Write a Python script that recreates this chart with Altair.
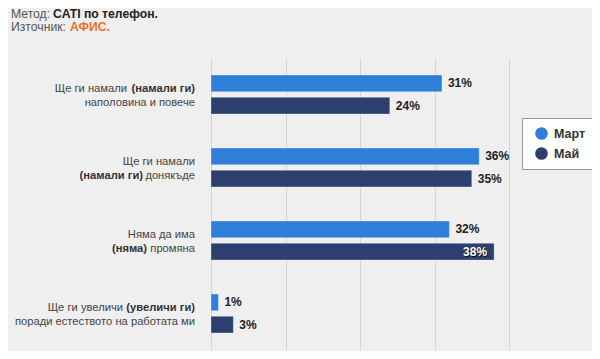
import altair as alt
import pandas as pd

# ---- data ----
cat_ids = ["c1", "c2", "c3", "c4"]
series = ["Март", "Май"]
march = [31, 36, 32, 1]
may = [24, 35, 38, 3]

# category label segments: (category, line, text, weight)
label_cat = ["c1", "c1", "c1", "c2", "c2", "c2", "c3", "c3", "c3", "c4", "c4", "c4"]
label_line = [0, 0, 1, 0, 1, 1, 0, 1, 1, 0, 0, 1]
label_text = ["Ще ги намали", "(намали ги)", "наполовина и повече",
              "Ще ги намали", "(намали ги)", "донякъде",
              "Няма да има", "(няма)", "промяна",
              "Ще ги увеличи", "(увеличи ги)", "поради естеството на работата ми"]
label_weight = ["normal", "bold", "normal",
                "normal", "bold", "normal",
                "normal", "bold", "normal",
                "normal", "bold", "normal"]

header_normal = ["Метод:", "Източник:"]
header_bold = ["CATI по телефон.", "АФИС."]

# ---- layout (pixels, relative to plot origin) ----
label_right = [-84, -16, -16, -16, -68, -16, -16, -64, -16, -88, -16, -16]

colors = ["#2f7fd9", "#2c3f6e"]
FONT = "Liberation Sans"
LFS = 11.2

rows = []
for i, c in enumerate(cat_ids):
    rows.append({"cat": c, "series": series[0], "value": march[i]})
    rows.append({"cat": c, "series": series[1], "value": may[i]})
df = pd.DataFrame(rows)
df["lbl"] = df["value"].astype(str) + "%"

lab = pd.DataFrame({"cat": label_cat, "line": label_line, "text": label_text,
                    "weight": label_weight, "xr": label_right})

yenc = alt.Y("cat:N", sort=cat_ids, axis=None,
             scale=alt.Scale(domain=cat_ids, paddingInner=0.466, paddingOuter=0.233))
yoff = alt.YOffset("series:N", sort=series,
                   scale=alt.Scale(domain=series, paddingInner=0.25, paddingOuter=0))
xenc = alt.X("value:Q", scale=alt.Scale(domain=[0, 40]),
             axis=alt.Axis(values=[0, 10, 20, 30, 40], labels=False, ticks=False,
                           domain=False, grid=True, gridColor="#d4d4d4", gridWidth=1,
                           title=None))

base = alt.Chart(df).encode(y=yenc, yOffset=yoff)

bars = base.mark_bar(stroke="#ffffff", strokeWidth=0.6, strokeOpacity=0.5).encode(
    x=xenc,
    color=alt.Color("series:N", sort=series,
                    scale=alt.Scale(domain=series, range=colors),
                    legend=alt.Legend(title=None, orient="none", legendX=311, legendY=60,
                                      symbolType="circle", symbolSize=160,
                                      symbolStrokeWidth=0,
                                      labelFont=FONT, labelFontSize=12.5,
                                      labelFontWeight="bold", labelColor="#333333",
                                      strokeColor="#9a9a9a", fillColor="#ffffff",
                                      padding=9, rowPadding=7, symbolOffset=4,
                                      labelOffset=6)),
)

vals_out = base.mark_text(align="left", baseline="middle", dx=6, font=FONT,
                          fontSize=12, fontWeight="bold", color="#222222").encode(
    x=alt.X("value:Q"), text="lbl:N").transform_filter("datum.value < 37")

vals_shadow = base.mark_text(align="right", baseline="middle", dx=-6, dy=1, font=FONT,
                             fontSize=12, fontWeight="bold", color="#111111").encode(
    x=alt.X("value:Q"), text="lbl:N").transform_filter("datum.value >= 37")
vals_in = base.mark_text(align="right", baseline="middle", dx=-7, font=FONT,
                         fontSize=12, fontWeight="bold", color="#ffffff").encode(
    x=alt.X("value:Q"), text="lbl:N").transform_filter("datum.value >= 37")

lab_layers = []
for line, dy in [(0, -6), (1, 8)]:
    for w in ["normal", "bold"]:
        lab_layers.append(
            alt.Chart(lab).mark_text(align="right", baseline="middle", dy=dy, font=FONT,
                                     fontSize=LFS, fontWeight=w,
                                     color="#444444" if w == "normal" else "#333333")
            .encode(y=alt.Y("cat:N", sort=cat_ids, axis=None),
                    x=alt.X("xr:Q", scale=None),
                    text="text:N")
            .transform_filter(f"datum.line == {line} && datum.weight == '{w}'")
        )

hdr = []
hdr_y = [-44, -31]
hdr_bold_x = [-158, -141]
hdr_colors = ["#222222", "#e8731e"]
for i in range(len(header_normal)):
    hdr.append(alt.Chart(pd.DataFrame({"t": [header_normal[i]]})).mark_text(
        align="left", baseline="middle", font=FONT, fontSize=12.2, color="#555555").encode(
        x=alt.value(-200), y=alt.value(hdr_y[i]), text="t:N"))
    hdr.append(alt.Chart(pd.DataFrame({"t": [header_bold[i]]})).mark_text(
        align="left", baseline="middle", font=FONT, fontSize=12.2, fontWeight="bold",
        color=hdr_colors[i]).encode(
        x=alt.value(hdr_bold_x[i]), y=alt.value(hdr_y[i]), text="t:N"))

chart = alt.layer(bars, vals_out, vals_shadow, vals_in, *lab_layers, *hdr).properties(
    width=298, height=292,
    padding={"left": 203, "top": 50, "right": 83, "bottom": 1},
    autosize=alt.AutoSizeParams(type="none"),
    background="#efefef",
).configure_view(stroke=None)

chart.save("out.html", embed_options={"renderer": "svg", "actions": False})
